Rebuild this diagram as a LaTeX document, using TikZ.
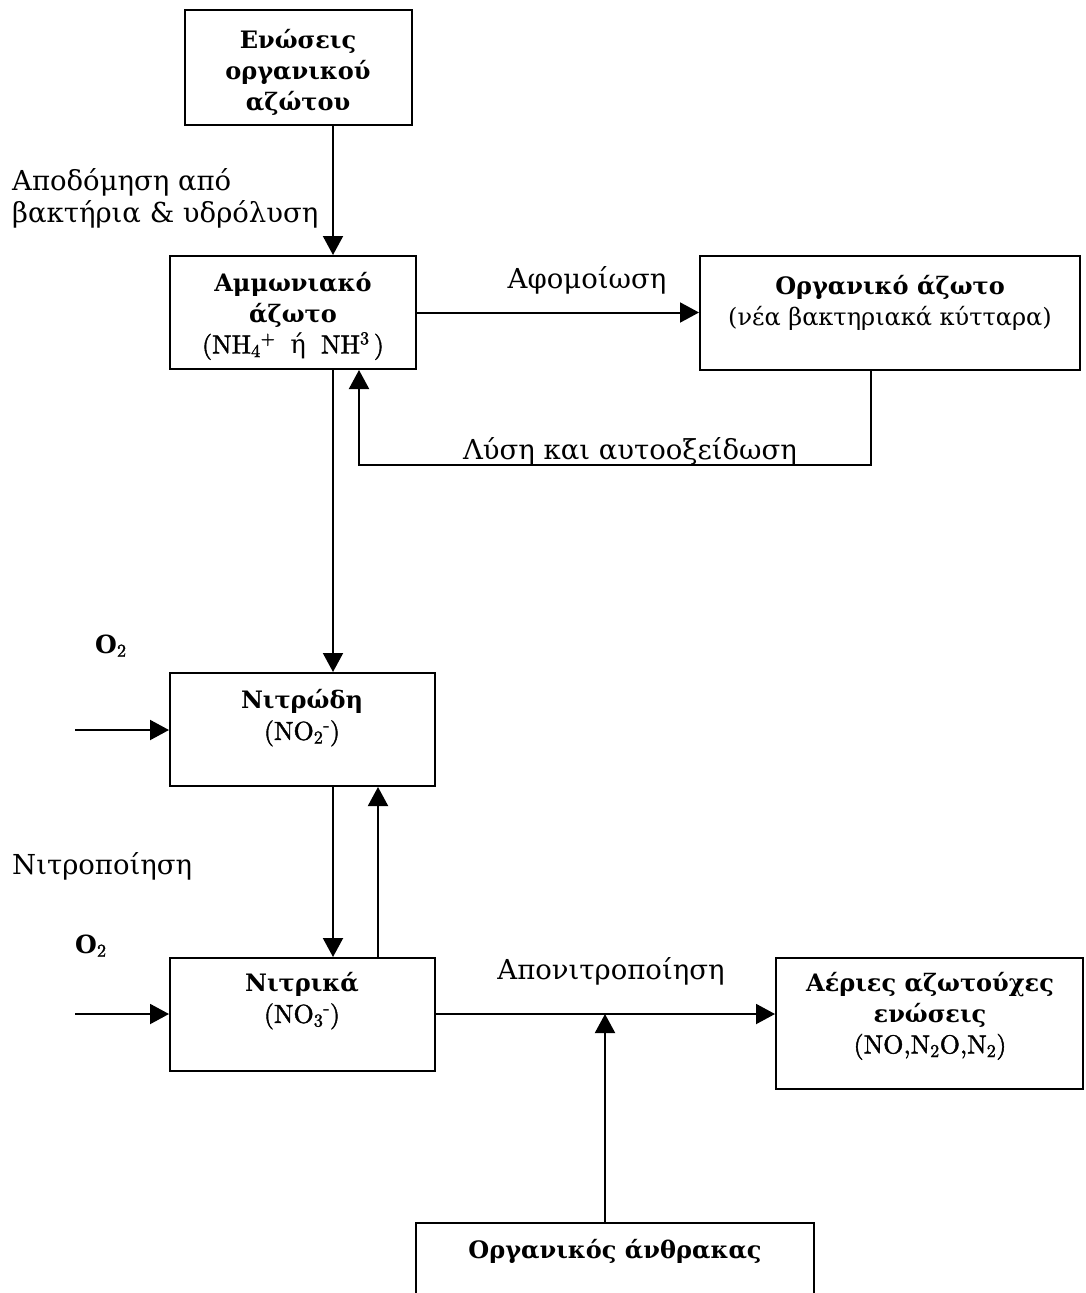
\documentclass[tikz,border=0pt]{standalone}
\usepackage{fontspec}
\newfontfamily\gr{DejaVu Serif}
\newfontfamily\lmh{lmroman10-regular.otf}[RawFeature={embolden=1.6}]
\usetikzlibrary{arrows.meta}
\newcommand{\frm}{\lmh\mdseries\fontsize{26}{31}\selectfont}
\begin{document}
\begin{tikzpicture}[x=1pt,y=-1pt,
  box/.style={draw, line width=2pt, inner sep=0pt},
  conn/.style={line width=2pt, -{Triangle[length=19pt,width=20pt]}},
  gtxt/.style={font=\gr\fontsize{27.5}{31}\selectfont, align=center, inner sep=0pt},
  ltxt/.style={font=\gr\fontsize{27.5}{32}\selectfont, align=left, inner sep=0pt, anchor=west},
  btxt/.style={font=\gr\bfseries\fontsize{24}{31}\selectfont, align=center, inner sep=0pt}
]
\clip (0,0) rectangle (1085,1293);
% boxes
\node[box, minimum width=227pt, minimum height=115pt] (top) at (298.5,67.5) {};
\node[box, minimum width=246pt, minimum height=113pt] (amm) at (293,312.5) {};
\node[box, minimum width=380pt, minimum height=114pt] (org) at (890,313) {};
\node[box, minimum width=265pt, minimum height=113pt] (nitrod) at (302.5,729.5) {};
\node[box, minimum width=265pt, minimum height=113pt] (nitrik) at (302.5,1014.5) {};
\node[box, minimum width=307pt, minimum height=131pt] (aer) at (929.5,1023.5) {};
\node[box, minimum width=398pt, minimum height=100pt] (anth) at (615,1273) {};
% box texts
\node[btxt] (ttop) at (298,72) {Ενώσεις\\οργανικού\\αζώτου};
\node[btxt] (tamm) at (293,316) {Αμμωνιακό\\άζωτο\\{\frm(NH\textsubscript{4}\textsuperscript{+}\hspace{15pt}{\gr ή}\hspace{15pt}NH\textsuperscript{3}\,)}};
\node[btxt] (torg) at (890,303) {Οργανικό άζωτο\\{\mdseries\fontsize{24}{31}\selectfont(νέα βακτηριακά κύτταρα)}};
\node[btxt] (tnitrod) at (302,718) {Νιτρώδη\\{\frm(NO\textsubscript{2}\textsuperscript{-})}};
\node[btxt] (tnitrik) at (302,1001) {Νιτρικά\\{\frm(NO\textsubscript{3}\textsuperscript{-})}};
\node[btxt] (taer) at (930,1016) {Αέριες αζωτούχες\\ενώσεις\\{\frm(NO,N\textsubscript{2}O,N\textsubscript{2})}};
\node[btxt] (tanth) at (615,1251) {Οργανικός άνθρακας};
% labels
\node[ltxt] (lapod) at (12,198) {Αποδόμηση από\\βακτήρια \& υδρόλυση};
\node[gtxt] (lafom) at (587,280) {Αφομοίωση};
\node[gtxt] (llysi) at (630,451) {Λύση και αυτοοξείδωση};
\node[ltxt] (lnitro) at (12,866) {Νιτροποίηση};
\node[gtxt] (lapon) at (611,971) {Απονιτροποίηση};
\node[anchor=base west, inner sep=0pt] (o2a) at (95,653) {{\gr\bfseries\fontsize{25}{31}\selectfont O}{\frm\textsubscript{2}}};
\node[anchor=base west, inner sep=0pt] (o2b) at (75,953) {{\gr\bfseries\fontsize{25}{31}\selectfont O}{\frm\textsubscript{2}}};
% coordinates
\coordinate (xa) at (333,0);
\coordinate (xd) at (378,0);
\coordinate (r1) at (871,465);
\coordinate (r2) at (359,465);
\coordinate (in1) at (75,730);
\coordinate (in2) at (75,1014);
\coordinate (jn) at (605,1014);
% connectors
\draw[conn] (top.south -| xa) -- (amm.north -| xa);
\draw[conn] (amm.east) -- (org.west |- amm.east);
\draw[conn] (org.south -| r1) -- (r1) -- (r2) -- (amm.south -| r2);
\draw[conn] (amm.south -| xa) -- (nitrod.north -| xa);
\draw[conn] (nitrod.south -| xa) -- (nitrik.north -| xa);
\draw[conn] (nitrik.north -| xd) -- (nitrod.south -| xd);
\draw[conn] (in1) -- (nitrod.west |- in1);
\draw[conn] (in2) -- (nitrik.west |- in2);
\draw[conn] (nitrik.east |- jn) -- (aer.west |- jn);
\draw[conn] (anth.north -| jn) -- (jn);
\end{tikzpicture}
\end{document}
